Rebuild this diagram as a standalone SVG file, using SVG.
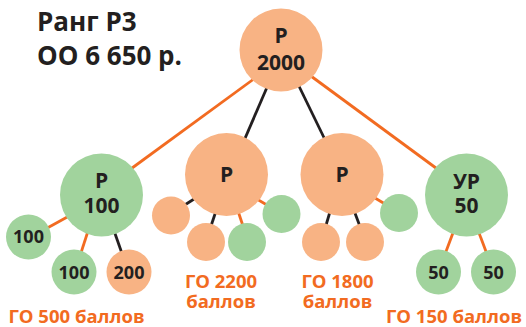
<svg xmlns="http://www.w3.org/2000/svg" width="526" height="327" viewBox="0 0 526 327">
<style>
text{font-family:"Open Sans","Liberation Sans",sans-serif;font-weight:700;}
.o{fill:#f8b384;}
.g{fill:#a1d39d;}
.t{fill:#231f20;text-anchor:middle;}
.big{font-size:21px;}
.sm{font-size:18px;}
.hd{font-size:26px;fill:#231f20;}
.lab{fill:#f26b21;font-size:18.5px;text-anchor:middle;}
.lo{stroke:#f26b21;stroke-width:2.8;fill:none;}
.lk{stroke:#231f20;stroke-width:2.8;fill:none;}
</style>
<rect width="526" height="327" fill="#ffffff"/>
<g id="connectors">
<line class="lo" x1="262" y1="73" x2="128" y2="171"/>
<line class="lo" x1="300" y1="68" x2="440" y2="171"/>
<line class="lk" x1="268" y1="85" x2="240" y2="150"/>
<line class="lk" x1="296" y1="80" x2="330" y2="150"/>
<line class="lo" x1="40" y1="232" x2="80" y2="210"/>
<line class="lo" x1="78" y1="262" x2="90" y2="225"/>
<line class="lk" x1="125" y1="262" x2="112" y2="225"/>
<line class="lk" x1="180" y1="208" x2="205" y2="192"/>
<line class="lk" x1="209" y1="232" x2="218" y2="205"/>
<line class="lo" x1="245" y1="232" x2="236" y2="205"/>
<line class="lo" x1="272" y1="208" x2="250" y2="195"/>
<line class="lk" x1="324" y1="232" x2="332" y2="205"/>
<line class="lk" x1="362" y1="232" x2="352" y2="205"/>
<line class="lo" x1="390" y1="207" x2="370" y2="195"/>
<line class="lo" x1="442" y1="262" x2="456" y2="225"/>
<line class="lo" x1="490" y1="262" x2="476" y2="225"/>
</g>
<g id="title">
<text class="hd" x="37" y="31">Ранг Р3</text>
<text class="hd" x="37" y="65">ОО 6 650 р.</text>
</g>
<g id="n-top"><circle class="o" cx="281" cy="50" r="41.5"/><text class="t big" x="281" y="43">Р</text><text class="t big" x="281" y="70">2000</text></g>
<g id="n-left"><circle class="g" cx="101.5" cy="195" r="41.5"/><text class="t big" x="101.5" y="188">Р</text><text class="t big" x="101.5" y="213">100</text></g>
<g id="n-midleft"><circle class="o" cx="226.5" cy="174.5" r="41.5"/><text class="t big" x="226.5" y="182">Р</text></g>
<g id="n-midright"><circle class="o" cx="342" cy="174.5" r="41.5"/><text class="t big" x="342" y="182">Р</text></g>
<g id="n-right"><circle class="g" cx="466.5" cy="195" r="41.5"/><text class="t big" x="466.5" y="189">УР</text><text class="t big" x="466.5" y="213">50</text></g>
<g id="n-l1"><circle class="g" cx="28.5" cy="237" r="22.5"/><text class="t sm" x="28.5" y="243">100</text></g>
<g id="n-l2"><circle class="g" cx="74" cy="272" r="22.5"/><text class="t sm" x="74" y="279">100</text></g>
<g id="n-l3"><circle class="o" cx="129" cy="272" r="22.5"/><text class="t sm" x="129" y="279">200</text></g>
<g id="n-ml1"><circle class="o" cx="171" cy="215.5" r="19"/></g>
<g id="n-ml2"><circle class="o" cx="206" cy="242" r="19"/></g>
<g id="n-ml3"><circle class="g" cx="247" cy="242" r="19"/></g>
<g id="n-ml4"><circle class="g" cx="281.5" cy="214" r="19"/></g>
<g id="n-mr1"><circle class="o" cx="321" cy="242" r="19"/></g>
<g id="n-mr2"><circle class="o" cx="365" cy="242" r="19"/></g>
<g id="n-mr3"><circle class="g" cx="399" cy="213" r="19"/></g>
<g id="n-r1"><circle class="g" cx="438.5" cy="272" r="22.5"/><text class="t sm" x="438.5" y="279">50</text></g>
<g id="n-r2"><circle class="g" cx="493.5" cy="272" r="22.5"/><text class="t sm" x="493.5" y="279">50</text></g>
<g id="labels">
<text class="lab" x="76.5" y="323">ГО 500 баллов</text>
<text class="lab" x="221" y="288">ГО 2200</text>
<text class="lab" x="221" y="308">баллов</text>
<text class="lab" x="337.5" y="288">ГО 1800</text>
<text class="lab" x="337.5" y="308">баллов</text>
<text class="lab" x="454" y="323">ГО 150 баллов</text>
</g>
</svg>
